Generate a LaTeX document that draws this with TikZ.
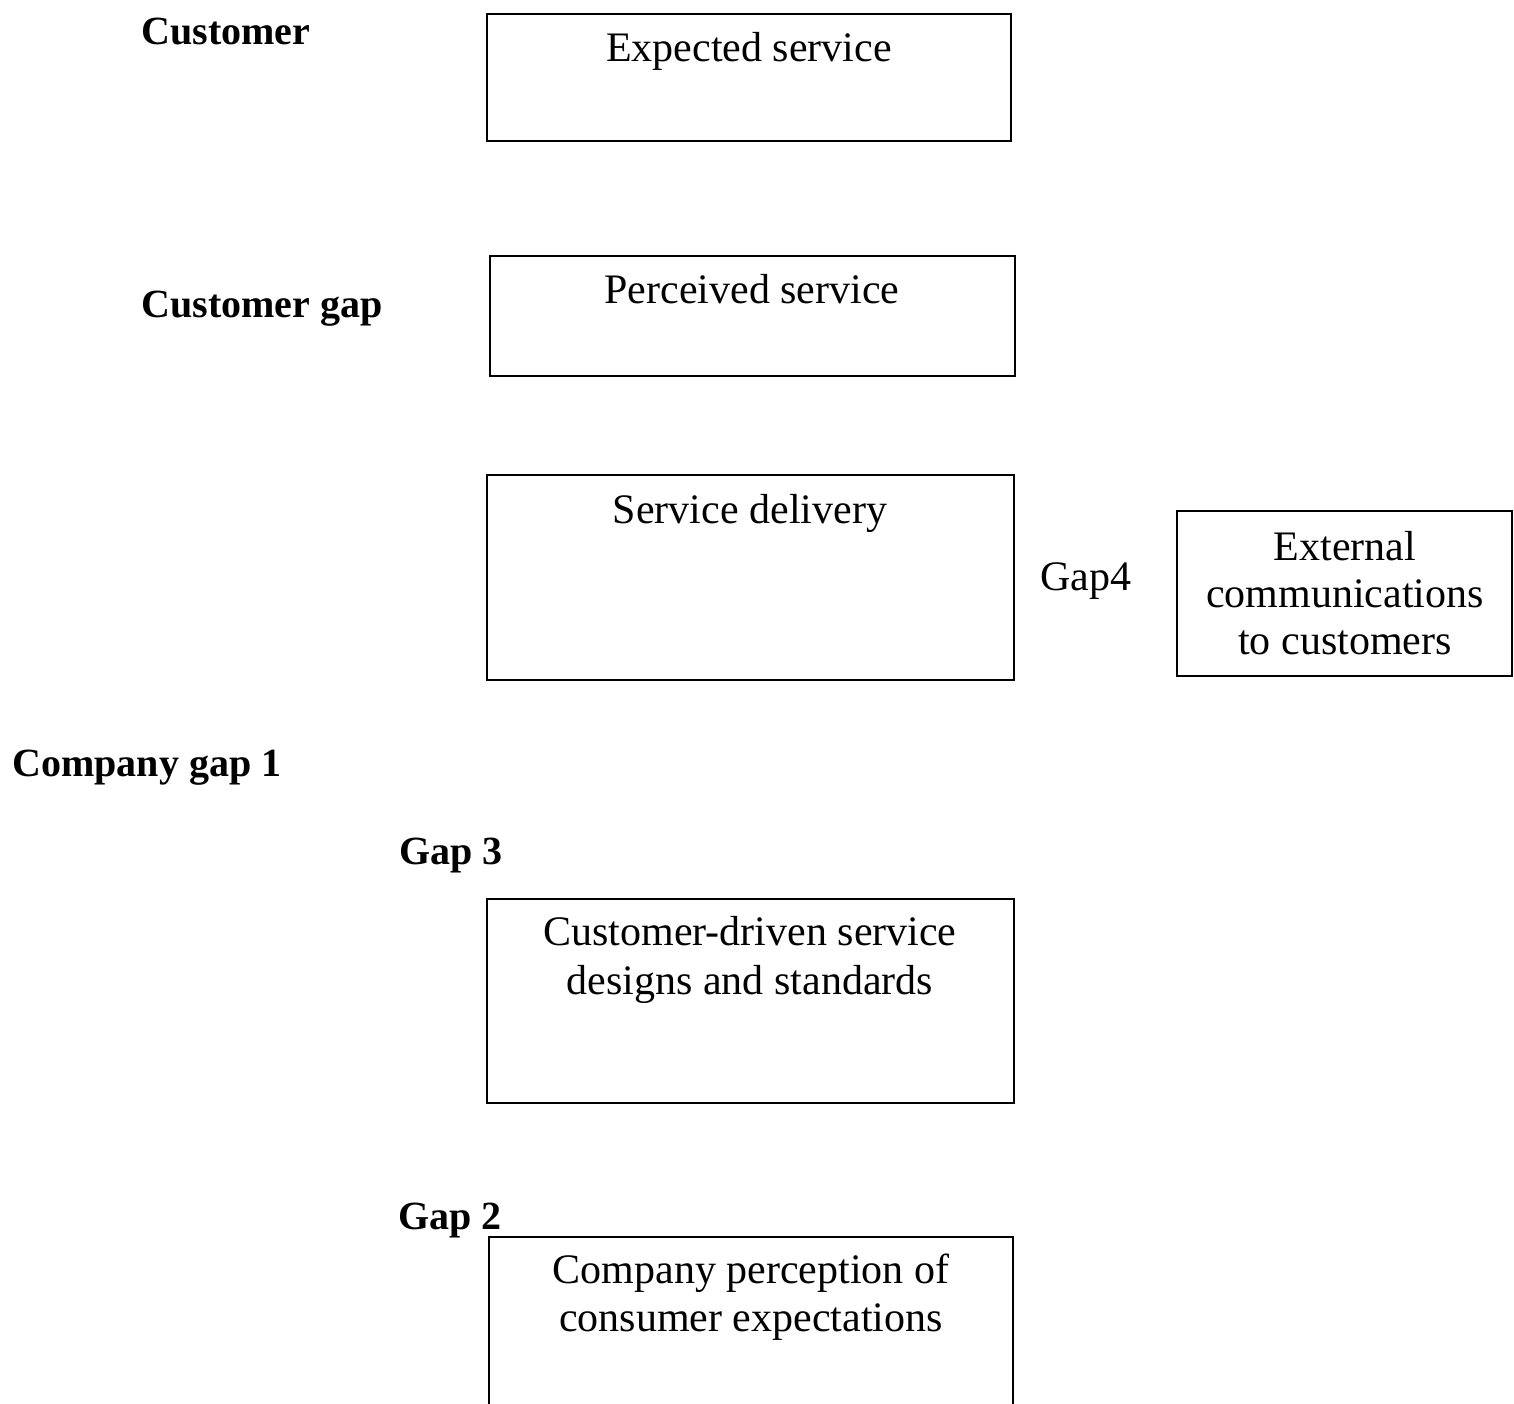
\documentclass[tikz,border=0pt]{standalone}
\usepackage{fontspec}
\setmainfont{Liberation Serif}
\usetikzlibrary{positioning}

\tikzset{
  box/.style={draw, line width=0.9pt, inner sep=0pt},
  boxtext/.style={font=\fontsize{21}{23.5}\selectfont, align=center, inner sep=0pt},
  gaplabel/.style={font=\fontsize{20}{24}\selectfont\bfseries, anchor=base west, inner sep=0pt},
}

\begin{document}
\begin{tikzpicture}[x=0.5pt, y=-0.5pt]
\clip (0,0) rectangle (1514,1403);

% Boxes
\node[box, minimum width=262pt, minimum height=63.5pt] (expected) at (749,77.5) {};
\node[box, minimum width=262.5pt, minimum height=60pt] (perceived) at (752.5,316) {};
\node[box, minimum width=263.5pt, minimum height=102.5pt] (delivery) at (750.5,577.5) {};
\node[box, minimum width=167.5pt, minimum height=82.5pt] (external) at (1344.5,593.5) {};
\node[box, minimum width=263.5pt, minimum height=102pt] (designs) at (750.5,1001) {};
\node[box, minimum width=262pt, minimum height=95pt] (perception) at (751,1236) [anchor=north] {};

% Box texts
\node[boxtext, anchor=base] (expectedtxt) at (749,61) {Expected service};
\node[boxtext, anchor=base] (perceivedtxt) at (752,303) {Perceived service};
\node[boxtext, anchor=base] (deliverytxt) at (750,523) {Service delivery};
\node[boxtext] (externaltxt) at (1345,593) {External\\communications\\to customers};
\node[boxtext, font=\fontsize{21}{24.3}\selectfont] (designstxt) at (750,960) {Customer-driven service\\designs and standards};
\node[boxtext, font=\fontsize{21}{24}\selectfont] (perceptiontxt) at (751,1297) {Company perception of\\consumer expectations};

% Gap labels
\node[gaplabel] (customer) at (141,44) {Customer};
\node[gaplabel] (customergap) at (141,317) {Customer gap};
\node[gaplabel, font=\fontsize{21}{24}\selectfont] (gapfour) at (1040,590) {Gap4};
\node[gaplabel] (companygap) at (12,776) {Company gap 1};
\node[gaplabel] (gapthree) at (399,864) {Gap 3};
\node[gaplabel] (gaptwo) at (398,1229) {Gap 2};

\end{tikzpicture}
\end{document}
